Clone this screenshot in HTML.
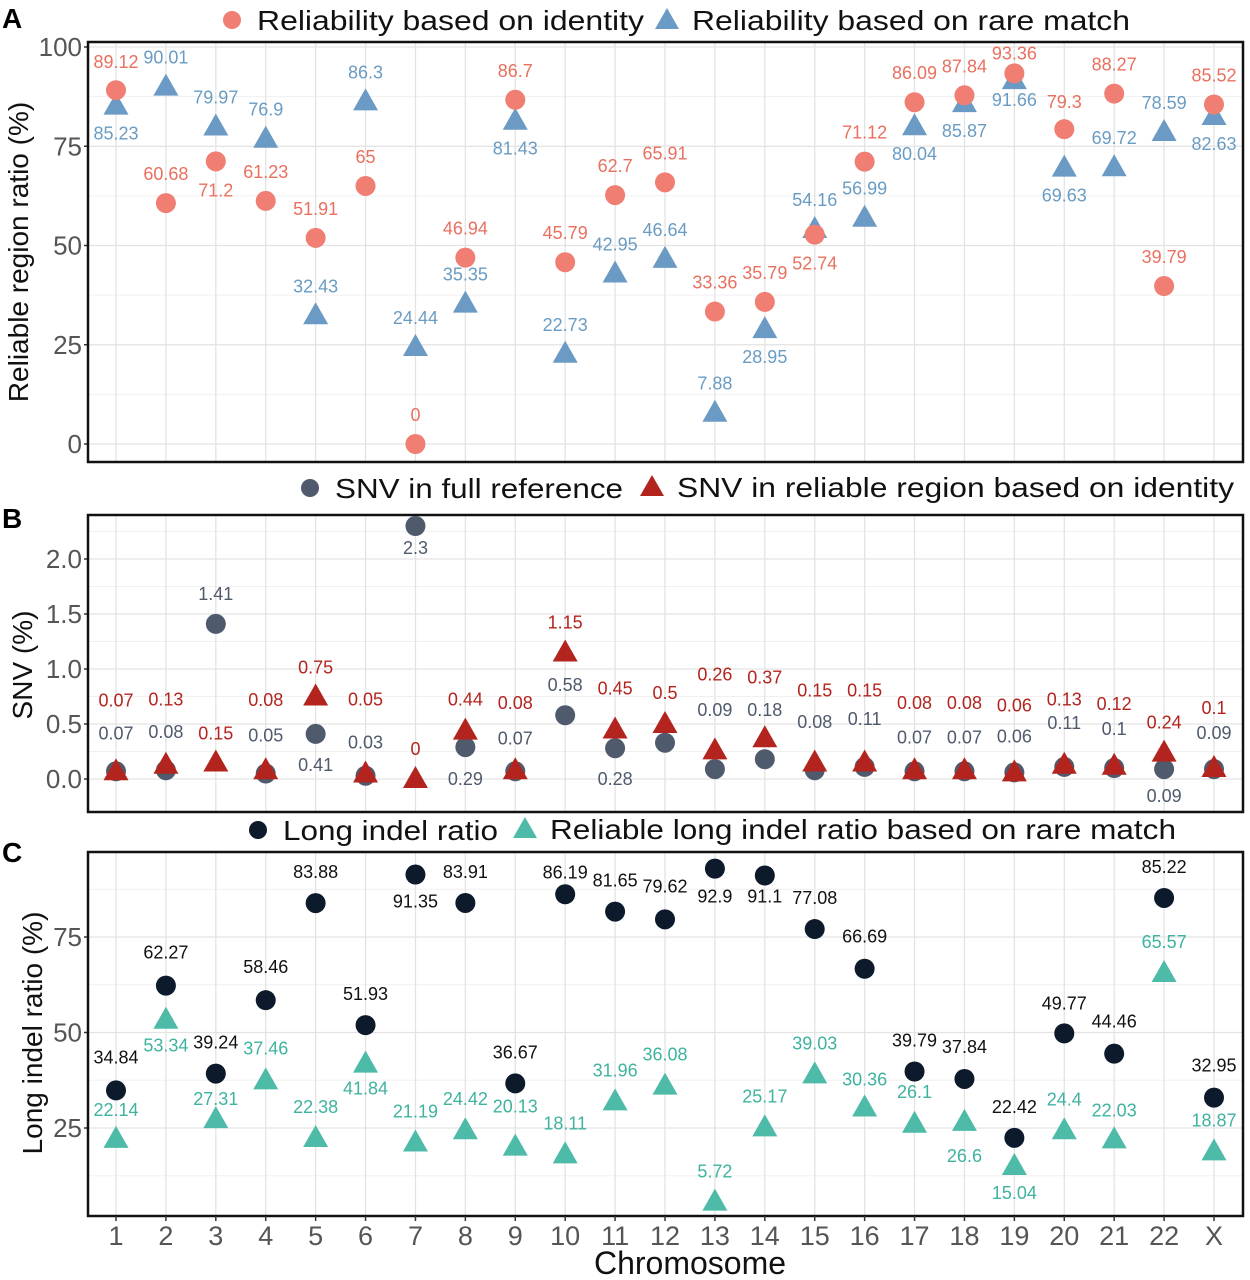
<!DOCTYPE html>
<html><head><meta charset="utf-8"><style>
html,body{margin:0;padding:0;background:#fff}
svg{display:block;font-family:"Liberation Sans",Arial,sans-serif}
</style></head><body>
<svg id="chart" width="1250" height="1280" viewBox="0 0 1250 1280" xmlns="http://www.w3.org/2000/svg"></svg>
<script>
const categories=["1","2","3","4","5","6","7","8","9","10","11","12","13","14","15","16","17","18","19","20","21","22","X"];
// Panel A
const identityVals=[89.12,60.68,71.2,61.23,51.91,65,0,46.94,86.7,45.79,62.7,65.91,33.36,35.79,52.74,71.12,86.09,87.84,93.36,79.3,88.27,39.79,85.52];
const identityDy=[-28,-29,29,-29,-29,-29,-29,-29,-29,-29,-29,-29,-29,-29,29,-29,-29,-29,-20,-27,-29,-29,-29];
const rareVals=[85.23,90.01,79.97,76.9,32.43,86.3,24.44,35.35,81.43,22.73,42.95,46.64,7.88,28.95,54.16,56.99,80.04,85.87,91.66,69.63,69.72,78.59,82.63];
const rareDy=[28,-29,-29,-29,-29,-29,-29,-29,28,-29,-29,-29,-29,28,-29,-29,28,28,20,28,-29,-29,28];
const aTicks=[0,25,50,75,100];
// Panel B
const snvFull=[0.07,0.08,1.41,0.05,0.41,0.03,2.3,0.29,0.07,0.58,0.28,0.33,0.09,0.18,0.08,0.11,0.07,0.07,0.06,0.11,0.1,0.09,0.09];
const snvFullLabels=["0.07","0.08","1.41","0.05","0.41","0.03","2.3","0.29","0.07","0.58","0.28","","0.09","0.18","0.08","0.11","0.07","0.07","0.06","0.11","0.1","0.09","0.09"];
const snvFullDy=[-38,-38,-30,-38,31,-33,22,32,-33,-30,31,0,-59,-49,-48,-48,-34,-34,-36,-44,-39,27,-36];
const snvRel=[0.07,0.13,0.15,0.08,0.75,0.05,0,0.44,0.08,1.15,0.45,0.5,0.26,0.37,0.15,0.15,0.08,0.08,0.06,0.13,0.12,0.24,0.1];
const snvRelLabels=["0.07","0.13","0.15","0.08","0.75","0.05","0","0.44","0.08","1.15","0.45","0.5","0.26","0.37","0.15","0.15","0.08","0.08","0.06","0.13","0.12","0.24","0.1"];
const snvRelDy=[-71,-65,-29,-70,-29,-74,-30,-31,-67,-30,-41,-31,-76,-61,-72,-72,-67,-67,-67,-65,-62,-30,-60];
const bTicks=[0,0.5,1,1.5,2];
const bTickLabels=["0.0","0.5","1.0","1.5","2.0"];
// Panel C
const indelVals=[34.84,62.27,39.24,58.46,83.88,51.93,91.35,83.91,36.67,86.19,81.65,79.62,92.9,91.1,77.08,66.69,39.79,37.84,22.42,49.77,44.46,85.22,32.95];
const indelDy=[-33,-33,-31,-33,-31,-31,27,-31,-31,-22,-31,-33,28,21,-31,-32,-31,-32,-31,-30,-32,-31,-32];
const relIndelVals=[22.14,53.34,27.31,37.46,22.38,41.84,21.19,24.42,20.13,18.11,31.96,36.08,5.72,25.17,39.03,30.36,26.1,26.6,15.04,24.4,22.03,65.57,18.87];
const relIndelDy=[-29,26,-20,-32,-31,25,-31,-31,-40,-31,-31,-31,-30,-31,-31,-28,-32,34,27,-31,-29,-31,-31];
const cTicks=[25,50,75];

const svg=document.getElementById('chart');
const NS='http://www.w3.org/2000/svg';
function mk(tag,attrs,parent,text){const e=document.createElementNS(NS,tag);for(const k in attrs)e.setAttribute(k,attrs[k]);if(text!==undefined)e.textContent=text;(parent||svg).appendChild(e);return e;}
const X0=116,XSTEP=(1214-116)/22,L=88,R=1243;
const xs=i=>X0+i*XSTEP;

function panel(name,top,bottom,yf,ticks,tickLabels,minor){
  const g=mk('g',{});
  
  
  minor.forEach(v=>{const y=yf(v);if(y>top&&y<bottom){const l=mk('line',{x1:L,x2:R,y1:y,y2:y,stroke:'#f0f0f0','stroke-width':1},g);}});
  ticks.forEach(v=>{const y=yf(v);const l=mk('line',{x1:L,x2:R,y1:y,y2:y,stroke:'#e3e3e3','stroke-width':1.3},g);});
  categories.forEach((c,i)=>{const l=mk('line',{x1:xs(i),x2:xs(i),y1:top,y2:bottom,stroke:'#e3e3e3','stroke-width':1.3},g);});
  ticks.forEach((v,i)=>{const t=mk('text',{x:82,y:yf(v)+9,'text-anchor':'end','font-size':26,fill:'#555'},g,tickLabels[i]);
    mk('line',{x1:L-4,x2:L,y1:yf(v),y2:yf(v),stroke:'#333','stroke-width':1.5},g);});
  const b=mk('rect',{x:L,y:top,width:R-L,height:bottom-top,fill:'none',stroke:'#111','stroke-width':2.5},g);
  
  return g;
}
function circles(g,vals,yf,color,name){vals.forEach((v,i)=>{const c=mk('circle',{cx:xs(i),cy:yf(v),r:10,fill:color},g);});}
function tris(g,vals,yf,color,name){vals.forEach((v,i)=>{const x=xs(i),y=yf(v);const p=mk('polygon',{points:`${x},${y-13} ${x-12.5},${y+9} ${x+12.5},${y+9}`,fill:color},g);});}
function labels(g,vals,txt,dy,yf,color,name){vals.forEach((v,i)=>{if(txt[i]==='')return;const t=mk('text',{x:xs(i),y:yf(v)+dy[i]+6,'text-anchor':'middle','font-size':18,fill:color},g,txt[i]);});}
function ytitle(text,x,y,name){const t=mk('text',{x:x,y:y,'text-anchor':'middle','font-size':28,fill:'#111',transform:`rotate(-90 ${x} ${y})`},svg,text);}
function letter(t,x,y){const e=mk('text',{x:x,y:y,'font-size':28,'font-weight':'bold',fill:'#000'},svg,t);}
function legendItem(shape,color,x,y,text,w,name){const g=mk('g',{});
  if(shape==='c')mk('circle',{cx:x,cy:y,r:9,fill:color},g);else mk('polygon',{points:`${x},${y-12} ${x-12},${y+9} ${x+12},${y+9}`,fill:color},g);
  mk('text',{x:x+25,y:y+10,'font-size':28,fill:'#111',textLength:w,lengthAdjust:'spacingAndGlyphs'},g,text);}

// Panel A
const yA=v=>444-v*3.97;
const gA=panel('panel-a-reliability',42,462,yA,aTicks,aTicks.map(String),[12.5,37.5,62.5,87.5]);
tris(gA,rareVals,yA,'#6B9BC4','rare-match-triangle');
circles(gA,identityVals,yA,'#F07E72','identity-circle');
labels(gA,identityVals,identityVals.map(String),identityDy,yA,'#E9705F','identity-value-label');
labels(gA,rareVals,rareVals.map(String),rareDy,yA,'#6A9CC3','rare-match-value-label');
letter('A',2,28);
legendItem('c','#F07E72',232,20,'Reliability based on identity',387,'legend-identity');
legendItem('t','#6B9BC4',667,20,'Reliability based on rare match',438,'legend-rare-match');
ytitle('Reliable region ratio (%)',28,252,'y-axis-title-a');

// Panel B
const yB=v=>779-110*v;
const gB=panel('panel-b-snv',515,812,yB,bTicks,bTickLabels,[0.25,0.75,1.25,1.75,2.25]);
circles(gB,snvFull,yB,'#4F5A6C','snv-full-circle');
tris(gB,snvRel,yB,'#B3241E','snv-reliable-triangle');
labels(gB,snvFull,snvFullLabels,snvFullDy,yB,'#4F5A6C','snv-full-value-label');
labels(gB,snvRel,snvRelLabels,snvRelDy,yB,'#B3241E','snv-reliable-value-label');
letter('B',2,528);
legendItem('c','#4F5A6C',310,488,'SNV in full reference',288,'legend-snv-full');
legendItem('t','#B3241E',652,487,'SNV in reliable region based on identity',557,'legend-snv-reliable');
ytitle('SNV (%)',32,665,'y-axis-title-b');

// Panel C
const yC=v=>1128-(v-25)*3.82;
const gC=panel('panel-c-indel',852,1216,yC,cTicks,cTicks.map(String),[12.5,37.5,62.5,87.5]);
circles(gC,indelVals,yC,'#0C1A2B','long-indel-circle');
tris(gC,relIndelVals,yC,'#4DBBA8','reliable-indel-triangle');
labels(gC,indelVals,indelVals.map(String),indelDy,yC,'#111','long-indel-value-label');
labels(gC,relIndelVals,relIndelVals.map(String),relIndelDy,yC,'#3FB39F','reliable-indel-value-label');
letter('C',2,862);
legendItem('c','#0C1A2B',258,830,'Long indel ratio',215,'legend-long-indel');
legendItem('t','#4DBBA8',525,829,'Reliable long indel ratio based on rare match',626,'legend-reliable-indel');
ytitle('Long indel ratio (%)',42,1033,'y-axis-title-c');

categories.forEach((c,i)=>{mk('line',{x1:xs(i),x2:xs(i),y1:1216,y2:1221,stroke:'#333','stroke-width':1.5});
  const t=mk('text',{x:xs(i),y:1245,'text-anchor':'middle','font-size':27,fill:'#555'},svg,c);
  
  });
const xt=mk('text',{x:690,y:1274,'text-anchor':'middle','font-size':32,fill:'#111'},svg,'Chromosome');


</script>
</body></html>
